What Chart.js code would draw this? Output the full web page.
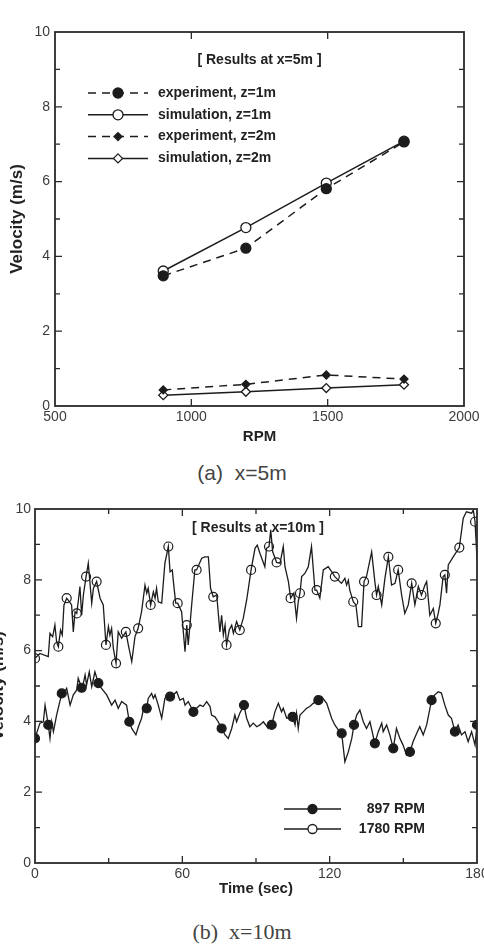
<!DOCTYPE html>
<html>
<head>
<meta charset="utf-8">
<script src="https://cdn.jsdelivr.net/npm/chart.js@4.4.0/dist/chart.umd.min.js"></script>
<style>
  html, body { margin: 0; padding: 0; background: #fff; width: 484px; height: 952px; overflow: hidden; position: relative; }
  canvas { position: absolute; }
  #chartA { left: 0; top: 0; }
  #chartB { left: -19px; top: 495px; }
  .caption { position: absolute; left: 0; width: 484px; text-align: center; color: #444; line-height: 24px; white-space: pre; }
  #capA { top: 461px; font-size: 21px; font-family: "Liberation Sans", sans-serif; }
  #capB { top: 920px; font-size: 22px; font-family: "Liberation Serif", serif; }
</style>
</head>
<body>
<canvas id="chartA" width="484" height="450"></canvas>
<canvas id="chartB" width="524" height="408"></canvas>
<div class="caption" id="capA">(a)  x=5m</div>
<div class="caption" id="capB">(b)  x=10m</div>
<script>
// (a) x=5m : velocity vs fan speed
const rpm = [897, 1200, 1495, 1780];
const expZ1 = [3.48, 4.22, 5.81, 7.06];
const simZ1 = [3.61, 4.77, 5.96, 7.08];
const expZ2 = [0.43, 0.58, 0.83, 0.72];
const simZ2 = [0.29, 0.38, 0.48, 0.57];

// (b) x=10m : velocity time history
const t897 = [0, 2.0, 3.4, 4.1, 5.4, 6.1, 6.8, 7.5, 8.8, 10.9, 12.2, 12.9, 14.3, 15.6, 17.0, 17.6, 19.0, 19.7, 20.4, 21.0,
  22.1, 23.1, 24.4, 25.8, 27.1, 29.2, 31.2, 32.6, 33.9, 35.3, 37.3, 38.4, 39.4, 41.1, 42.1, 43.4, 44.5, 45.5, 46.1, 47.5,
  48.2, 48.9, 50.2, 51.6, 52.9, 53.6, 55.0, 56.3, 57.7, 59.0, 60.4, 61.1, 62.4, 64.5, 65.8, 67.2, 68.5, 69.9, 71.3, 71.9,
  73.3, 74.6, 76.0, 77.4, 78.7, 80.1, 81.4, 82.1, 83.4, 85.1, 86.2, 87.5, 88.9, 90.3, 91.6, 93.0, 95.0, 96.4, 97.7, 99.1,
  100.4, 101.1, 102.5, 104.9, 105.9, 106.5, 107.2, 107.9, 109.2, 110.6, 111.9, 113.3, 115.4, 116.7, 118.8, 120.8, 122.1, 123.5, 124.9, 126.2,
  127.6, 129.0, 129.9, 131.0, 132.3, 133.7, 135.0, 136.4, 138.4, 139.8, 141.2, 141.8, 143.2, 144.5, 145.9, 147.2, 148.6, 149.9, 151.3, 152.7,
  154.0, 155.4, 156.7, 158.1, 159.5, 161.5, 162.8, 164.2, 165.5, 166.9, 168.3, 169.6, 171.0, 172.3, 173.7, 175.1, 176.4, 177.8, 179.2, 180.0];
const v897 = [3.52, 3.95, 3.99, 4.46, 3.9, 3.52, 3.99, 3.71, 4.18, 4.79, 4.84, 4.93, 4.46, 4.75, 4.89, 5.22, 4.95, 5.08, 5.31, 5.03,
  5.4, 4.98, 5.4, 5.08, 4.93, 4.75, 4.46, 4.6, 4.37, 4.56, 4.46, 3.99, 3.8, 3.62, 3.85, 4.09, 4.46, 4.37, 4.65, 4.79,
  4.65, 4.75, 4.46, 4.09, 4.65, 4.7, 4.7, 4.75, 4.84, 4.6, 4.65, 4.46, 4.56, 4.27, 4.37, 4.46, 4.42, 4.56, 4.42, 4.18,
  4.13, 3.99, 3.8, 3.62, 3.52, 3.8, 4.18, 3.99, 4.23, 4.46, 4.09, 3.85, 3.95, 3.85, 3.9, 3.99, 3.8, 3.9, 4.27, 4.51,
  4.27, 4.37, 4.09, 4.13, 3.9, 4.23, 3.8, 4.18, 4.27, 4.37, 4.42, 4.51, 4.6, 4.7, 4.51, 4.09, 3.9, 3.76, 3.66, 2.86,
  3.14, 3.52, 3.9, 4.18, 4.32, 3.99, 3.8, 3.99, 3.38, 3.71, 3.95, 3.71, 3.9, 3.62, 3.24, 3.8, 3.52, 3.33, 3.05, 3.14,
  3.43, 3.66, 3.85, 3.62, 3.9, 4.6, 4.75, 4.84, 4.8, 4.46, 4.18, 4.09, 3.71, 3.9, 3.62, 3.71, 3.43, 3.71, 3.33, 3.9];
const mark897T = [0, 5.4, 10.9, 19.0, 25.8, 38.4, 45.5, 55.0, 64.5, 76.0, 85.1, 96.4, 104.9, 115.4, 124.9, 129.9, 138.4, 145.9, 152.7, 161.5, 171.0, 180.0];
const mark897V = [3.52, 3.9, 4.79, 4.95, 5.08, 3.99, 4.37, 4.7, 4.27, 3.8, 4.46, 3.9, 4.13, 4.6, 3.66, 3.9, 3.38, 3.24, 3.14, 4.6, 3.71, 3.9];

const t1780 = [0, 2.0, 5.4, 6.1, 7.2, 8.1, 8.8, 9.5, 10.4, 11.1, 11.8, 12.9, 14.0, 14.9, 15.6, 16.3, 17.0, 17.6, 18.3, 19.0,
  19.7, 20.8, 21.7, 23.1, 23.8, 25.1, 26.5, 27.8, 28.9, 29.9, 30.5, 31.2, 31.9, 33.0, 33.9, 35.3, 37.0, 38.0, 39.4, 40.7,
  42.0, 43.4, 44.8, 45.5, 46.1, 47.1, 48.2, 48.9, 49.5, 50.2, 51.6, 52.9, 54.3, 55.0, 55.9, 56.3, 57.3, 58.1, 59.7, 61.1,
  61.8, 62.4, 63.1, 63.8, 65.1, 65.8, 67.9, 69.2, 70.6, 71.5, 72.6, 74.0, 75.3, 76.0, 76.7, 77.4, 78.0, 79.1, 80.1, 80.8,
  82.1, 83.4, 84.8, 86.2, 86.9, 88.0, 89.6, 90.5, 91.6, 93.6, 94.3, 95.3, 96.0, 96.8, 98.4, 99.8, 101.1, 101.8, 103.2, 104.1,
  105.4, 106.5, 107.2, 107.9, 108.6, 109.9, 111.3, 112.6, 114.0, 114.7, 116.0, 117.4, 119.4, 120.8, 122.1, 123.5, 124.8, 126.2, 126.9, 127.6,
  128.2, 129.6, 130.7, 131.7, 133.0, 134.0, 135.0, 137.1, 138.4, 139.1, 139.8, 141.2, 142.5, 143.9, 145.2, 146.6, 147.9, 149.3, 150.6, 152.0,
  153.4, 154.7, 156.1, 157.4, 158.8, 159.5, 160.8, 162.2, 163.2, 164.2, 164.9, 166.2, 166.9, 167.6, 168.3, 170.3, 172.8, 174.4, 175.7, 177.8,
  178.5, 179.2, 180.0];
const v1780 = [5.78, 5.92, 5.83, 6.49, 6.39, 6.72, 6.25, 6.11, 6.58, 6.44, 7.29, 7.48, 7.38, 7.29, 6.53, 7.1, 7.05, 7.38, 7.81, 7.0,
  7.57, 8.09, 8.47, 7.34, 7.76, 7.95, 7.48, 7.29, 6.16, 6.68, 6.44, 6.63, 6.06, 5.64, 6.53, 6.35, 6.53, 6.16, 5.69, 6.39,
  6.63, 7.1, 7.85, 7.62, 7.76, 7.29, 7.66, 7.48, 7.76, 7.38, 7.34, 8.47, 8.94, 8.23, 8.28, 7.99, 7.34, 7.34, 7.1, 5.97,
  6.72, 6.16, 6.72, 7.29, 8.28, 8.28, 8.61, 8.65, 8.65, 7.76, 7.52, 7.57, 6.53, 7.0, 6.44, 6.72, 6.16, 6.58, 6.72, 6.49,
  6.82, 6.58, 6.91, 7.43, 7.76, 8.28, 8.89, 8.98, 8.75, 8.37, 8.89, 8.94, 9.41, 8.79, 8.49, 8.47, 8.94, 8.37, 7.95, 7.48,
  7.62, 6.91, 7.38, 7.62, 8.09, 8.18, 8.37, 8.94, 7.71, 7.71, 7.48, 8.28, 8.37, 8.23, 8.09, 7.99, 7.9, 8.04, 7.85, 7.99,
  7.71, 7.38, 7.29, 6.68, 6.68, 7.95, 8.09, 8.79, 7.95, 7.57, 7.81, 7.29, 8.04, 8.65, 7.85, 7.9, 8.28, 7.57, 7.05, 7.29,
  7.9, 7.29, 7.81, 7.57, 7.85, 7.95, 7.0, 7.19, 6.77, 7.05, 7.29, 8.09, 8.14, 7.62, 8.42, 8.65, 8.91, 9.74, 9.92, 9.88,
  9.97, 9.64, 8.6];
const mark1780T = [0, 9.5, 12.9, 17.0, 20.8, 25.1, 28.9, 33.0, 37.0, 42.0, 47.1, 54.3, 58.1, 61.8, 65.8, 72.6, 78.0, 83.4,
  88.0, 95.3, 98.4, 104.1, 107.9, 114.7, 122.1, 129.6, 134.0, 139.1, 143.9, 147.9, 153.4, 157.4, 163.2, 166.9, 172.8, 179.2];
const mark1780V = [5.78, 6.11, 7.48, 7.05, 8.09, 7.95, 6.16, 5.64, 6.53, 6.63, 7.29, 8.94, 7.34, 6.72, 8.28, 7.52, 6.16, 6.58,
  8.28, 8.94, 8.49, 7.48, 7.62, 7.71, 8.09, 7.38, 7.95, 7.57, 8.65, 8.28, 7.9, 7.57, 6.77, 8.14, 8.91, 9.64];

const titleA = '[ Results at x=5m ]';
const titleB = '[ Results at x=10m ]';

const ink = '#1c1c1c';
const FONT = '"Liberation Sans", Arial, sans-serif';
Chart.defaults.font.family = FONT;

const pts = (xs, ys) => xs.map((x, i) => ({ x: x, y: ys[i] }));

function markerPath(ctx, style, r, x, y) {
    ctx.beginPath();
    if (style === 'rectRot') {
        ctx.moveTo(x, y - r); ctx.lineTo(x + r, y); ctx.lineTo(x, y + r); ctx.lineTo(x - r, y);
        ctx.closePath();
    } else {
        ctx.arc(x, y, r, 0, Math.PI * 2);
    }
}

// closed frame with inward ticks on all four sides
const frameTicks = {
    id: 'frameTicks',
    afterDatasetsDraw(chart, args, o) {
        const { ctx, chartArea: a, scales: { x, y } } = chart;
        ctx.save();
        ctx.strokeStyle = '#2a2a2a';
        ctx.lineWidth = 1.3;
        const tick = (v, scale, len) => {
            const p = scale.getPixelForValue(v);
            if (scale.isHorizontal()) {
                ctx.moveTo(p, a.bottom); ctx.lineTo(p, a.bottom - len);
                ctx.moveTo(p, a.top); ctx.lineTo(p, a.top + len);
            } else {
                ctx.moveTo(a.left, p); ctx.lineTo(a.left + len, p);
                ctx.moveTo(a.right, p); ctx.lineTo(a.right - len, p);
            }
        };
        ctx.beginPath();
        [[x, o.xMinor], [y, o.yMinor]].forEach(([scale, minor]) => {
            const vals = scale.ticks.map(t => t.value);
            vals.forEach((v, i) => {
                if (v !== scale.min && v !== scale.max) tick(v, scale, 7);
                if (minor && i < vals.length - 1) tick((v + vals[i + 1]) / 2, scale, 5);
            });
        });
        ctx.stroke();
        ctx.lineWidth = 1.8;
        ctx.strokeRect(a.left, a.top, a.right - a.left, a.bottom - a.top);
        ctx.restore();
    }
};

// title and legend drawn inside the plot area
const innerLegend = {
    id: 'innerLegend',
    afterDraw(chart, args, o) {
        const { ctx, chartArea: a } = chart;
        ctx.save();
        ctx.fillStyle = '#222';
        ctx.font = 'bold 14px ' + FONT;
        ctx.textBaseline = 'middle';
        ctx.textAlign = 'center';
        ctx.fillText(o.title, (a.left + a.right) / 2 + o.titleDx, a.top + o.titleDy);

        const items = chart.data.datasets.filter(ds => ds.label);
        items.forEach((ds, i) => {
            const yy = a.top + o.y0 + i * o.dy;
            const x0 = a.left + o.x0, x1 = a.left + o.x1, xm = (x0 + x1) / 2;
            ctx.strokeStyle = ink;
            ctx.lineWidth = ds.borderWidth;
            ctx.setLineDash(ds.borderDash || []);
            ctx.beginPath(); ctx.moveTo(x0, yy); ctx.lineTo(x1, yy); ctx.stroke();
            ctx.setLineDash([]);
            const lp = ds.legendPoint || { style: ds.pointStyle, radius: ds.pointRadius, fill: ds.pointBackgroundColor };
            markerPath(ctx, lp.style, lp.radius, xm, yy);
            ctx.fillStyle = lp.fill;
            ctx.fill();
            ctx.lineWidth = 1.3;
            ctx.stroke();
            ctx.fillStyle = '#222';
            ctx.font = 'bold 14px ' + FONT;
            ctx.textAlign = o.textAlign;
            ctx.fillText(ds.label, a.left + o.textX, yy);
        });
        ctx.restore();
    }
};

function axes(xOpt, yOpt) {
    const tickFont = { size: 14 };
    return {
        x: {
            type: 'linear', min: xOpt.min, max: xOpt.max,
            grid: { display: false, drawTicks: false }, border: { display: false },
            ticks: { stepSize: xOpt.step, padding: 3, color: '#3c3c3c', font: tickFont, maxRotation: 0, callback: v => String(v) },
            title: { display: true, text: xOpt.title, color: '#222', font: { size: 15, weight: 'bold' }, padding: { top: 0, bottom: xOpt.titlePad } },
            afterFit: s => { s.height = xOpt.height; }
        },
        y: {
            type: 'linear', min: 0, max: 10,
            grid: { display: false, drawTicks: false }, border: { display: false },
            ticks: { stepSize: 2, padding: yOpt.pad, color: '#3c3c3c', font: tickFont, callback: v => String(v) },
            title: { display: true, text: 'Velocity (m/s)', color: '#222', font: { size: 17, weight: 'bold' }, padding: { top: 7, bottom: 0 } },
            afterFit: s => { s.width = yOpt.width; }
        }
    };
}

const lineStyle = { showLine: true, borderColor: ink, borderWidth: 1.5, tension: 0, pointBorderColor: ink, pointBorderWidth: 1.3 };

new Chart(document.getElementById('chartA'), {
    type: 'scatter',
    data: {
        datasets: [
            { ...lineStyle, label: 'experiment, z=1m', data: pts(rpm, expZ1), borderDash: [8, 6], pointStyle: 'circle', pointRadius: 5, pointBackgroundColor: ink },
            { ...lineStyle, label: 'simulation, z=1m', data: pts(rpm, simZ1), pointStyle: 'circle', pointRadius: 5, pointBackgroundColor: '#fff' },
            { ...lineStyle, label: 'experiment, z=2m', data: pts(rpm, expZ2), borderDash: [8, 6], pointStyle: 'rectRot', pointRadius: 4, pointBackgroundColor: ink },
            { ...lineStyle, label: 'simulation, z=2m', data: pts(rpm, simZ2), pointStyle: 'rectRot', pointRadius: 4.5, pointBackgroundColor: '#fff' }
        ]
    },
    options: {
        responsive: false,
        animation: false,
        events: [],
        layout: { padding: { top: 32, right: 20, left: 0, bottom: 0 } },
        plugins: {
            legend: { display: false },
            tooltip: { enabled: false },
            frameTicks: { xMinor: false, yMinor: true },
            innerLegend: { title: titleA, titleDx: 0, titleDy: 28, x0: 33, x1: 93, y0: 61, dy: 21.8, textX: 103, textAlign: 'left' }
        },
        scales: axes({ min: 500, max: 2000, step: 500, title: 'RPM', titlePad: 4, height: 44 }, { width: 55, pad: 5 })
    },
    plugins: [frameTicks, innerLegend]
});

new Chart(document.getElementById('chartB'), {
    type: 'scatter',
    data: {
        datasets: [
            { ...lineStyle, borderWidth: 1.3, label: '897 RPM', data: pts(t897, v897), pointRadius: 0,
              legendPoint: { style: 'circle', radius: 4.5, fill: ink } },
            { data: pts(mark897T, mark897V), showLine: false, pointStyle: 'circle', pointRadius: 4.5, pointBackgroundColor: ink, pointBorderColor: ink, pointBorderWidth: 1.2 },
            { ...lineStyle, borderWidth: 1.3, label: '1780 RPM', data: pts(t1780, v1780), pointRadius: 0,
              legendPoint: { style: 'circle', radius: 4.5, fill: '#fff' } },
            { data: pts(mark1780T, mark1780V), showLine: false, pointStyle: 'circle', pointRadius: 4.5, pointBackgroundColor: '#fff', pointBorderColor: ink, pointBorderWidth: 1.2 }
        ]
    },
    options: {
        responsive: false,
        animation: false,
        events: [],
        layout: { padding: { top: 14, right: 28, left: 0, bottom: 0 } },
        plugins: {
            legend: { display: false },
            tooltip: { enabled: false },
            frameTicks: { xMinor: true, yMinor: true },
            innerLegend: { title: titleB, titleDx: 2, titleDy: 19, x0: 249, x1: 306, y0: 300, dy: 20, textX: 390, textAlign: 'right' }
        },
        scales: axes({ min: 0, max: 180, step: 60, title: 'Time (sec)', titlePad: 5, height: 40 }, { width: 54, pad: 4 })
    },
    plugins: [frameTicks, innerLegend]
});
</script>
</body>
</html>
